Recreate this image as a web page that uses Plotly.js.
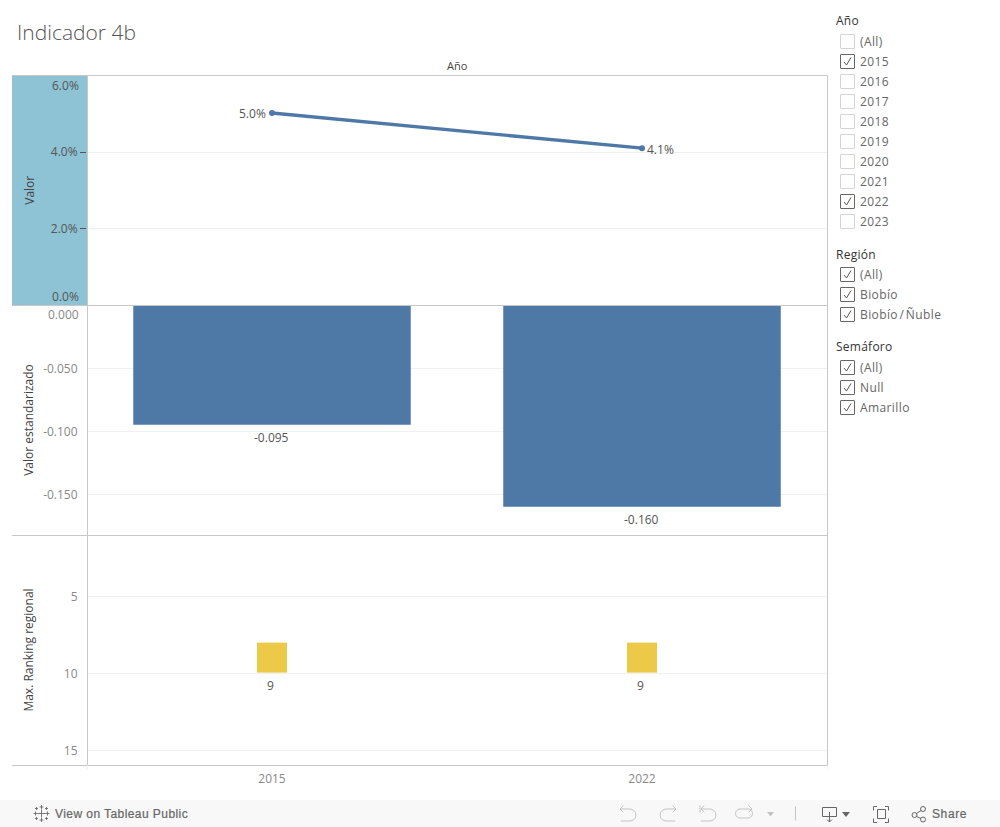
<!DOCTYPE html>
<html>
<head>
<meta charset="utf-8">
<script src="https://cdn.plot.ly/plotly-3.0.1.min.js"></script>
<style>
html,body{margin:0;padding:0;background:#fff;width:1000px;height:827px;overflow:hidden;font-family:"Open Sans",sans-serif}
#chart{position:absolute;left:0;top:0;width:1000px;height:827px}
.ft{position:absolute;left:836px;font-size:12px;color:#333;line-height:16px;white-space:nowrap;letter-spacing:.25px}
.fi{position:absolute;left:860px;font-size:12px;color:#666;line-height:16px;white-space:pre;letter-spacing:.4px;word-spacing:-2px}
.cb{position:absolute;left:840px;width:13px;height:13px;border:1px solid #d4d4d4;border-radius:1px;background:#fff}
.cb.on{border-color:#666}
.cb svg{position:absolute;left:0;top:0}
#bar{position:absolute;left:0;top:800px;width:1000px;height:27px;background:#f8f8f8;font-family:"Liberation Sans",sans-serif;font-size:12px;color:#666}
#bar span{position:absolute;top:6px;line-height:16px;-webkit-text-stroke:.2px #666}
#bar svg{position:absolute;left:0;top:0}
</style>
</head>
<body>
<div id="chart"></div>
<div id="filters"></div>
<div id="bar">
<svg width="1000" height="27" fill="none" stroke-linecap="butt" stroke-linejoin="round">
 <g stroke="#777" stroke-width="1">
  <path d="M41.500 9.500v8M37.500 13.500h8"/>
  <path d="M41.500 5v4M39.500 7h4M41.500 18v4M39.500 20h4M33.500 13.500h4M35.500 11.500v4M45.500 13.500h4M47.500 11.500v4"/>
  <path d="M36.500 7v3M35 8.500h3M46.500 7v3M45 8.500h3M36.500 17v3M35 18.500h3M46.500 17v3M45 18.500h3"/>
 </g>
 <g stroke="#c4c4c4" stroke-width="1" stroke-linecap="round">
  <path d="M621 9h9a6 6 0 0 1 0 12h-9M623 6l-3 3 3 3"/>
  <path d="M675 9h-9a6 6 0 0 0 0 12h9M673 6l3 3-3 3"/>
  <path d="M702 9h8a6 6 0 0 1 0 12h-9M704 6l-3 3 3 3M700 6v6"/>
  <path d="M740 9h8a3 3 0 0 1 0 9h-8a3 3 0 0 1 0-9M749 6l3 3-3 3"/>
  <path d="M795.500 7v13"/>
 </g>
 <path d="M767 12l3.500 4.500 3.500-4.500z" fill="#c4c4c4"/>
 <g stroke="#666" stroke-width="1">
  <path d="M822.500 7.500h14v9h-14zM829.500 12v10M827 19.500l2.500 2.500 2.500-2.500"/>
  <path d="M877 6.500h-3.500v4M885 6.500h3.500v4M877 22.500h-3.500v-4M885 22.500h3.500v-4M877.500 9.500h8v9h-8z"/>
  <circle cx="914.500" cy="15" r="2.500"/><circle cx="923" cy="9" r="2.500"/><circle cx="923" cy="19.500" r="2.500"/>
  <path d="M916.500 13.500l4.500-3M916.500 16.500l4.500 2"/>
 </g>
 <path d="M842 12l4 5 4-5z" fill="#666"/>
</svg>
<span style="left:55px;letter-spacing:.43px">View on Tableau Public</span>
<span style="left:932px;letter-spacing:.6px">Share</span>
</div>
<script>
// chart data
var years = ["2015", "2022"];
var valor = [0.0502, 0.0410];
var valorLabels = ["5.0%", "4.1%"];
var valorEstandarizado = [-0.095, -0.160];
var estandarizadoLabels = ["-0.095", "-0.160"];
var maxRanking = [9, 9];
var rankingLabels = ["9", "9"];

// filter panel contents
var filterAno = [["(All)",0],["2015",1],["2016",0],["2017",0],["2018",0],["2019",0],["2020",0],["2021",0],["2022",1],["2023",0]];
var filterRegion = [["(All)",1],["Biobío",1],["Biobío / Ñuble",1]];
var filterSemaforo = [["(All)",1],["Null",1],["Amarillo",1]];

var BLUE = "#4e79a7", YELLOW = "#edc948", BORDER = "#c8c8c8", GRID = "#f0f0f0";
var W = 1000, H = 827;
function py(p){ return 1 - p / H; }
function px(p){ return p / W; }

var traces = [
  {type:"scatter", mode:"lines+markers", x:years, y:valor, xaxis:"x", yaxis:"y",
   line:{color:BLUE, width:3.4}, marker:{color:BLUE, size:6}, cliponaxis:false, hoverinfo:"skip"},
  {type:"bar", x:years, y:valorEstandarizado, xaxis:"x", yaxis:"y2", width:0.75,
   marker:{color:BLUE}, hoverinfo:"skip"},
  {type:"scatter", mode:"markers", x:years, y:maxRanking, xaxis:"x", yaxis:"y3",
   marker:{color:YELLOW, size:30, symbol:"square"}, hoverinfo:"skip"}
];

function yBase(extra){
  return Object.assign({
    showgrid:true, gridcolor:GRID, gridwidth:1, zeroline:false, showline:false,
    automargin:false, anchor:"x",
    tickfont:{family:"Open Sans", size:12, color:"#888"},
    ticks:"outside", ticklen:6, tickcolor:"rgba(0,0,0,0)"
  }, extra);
}
var titleFont = {family:"Open Sans", size:12, color:"#444"};
var edge = {family:"Open Sans", size:12};
var dataFont = {family:"Open Sans", size:12, color:"#555"};

// x is the category position on the shared year axis
function dataLabel(i, y, yref, text, xanchor, xshift, yshift){
  return {xref:"x", yref:yref, x:i, y:y, text:text, showarrow:false, xanchor:xanchor, yanchor:"middle",
          xshift:xshift, yshift:yshift, font:dataFont};
}
var labelNotes = [
  dataLabel(0, valor[0], "y", valorLabels[0], "right", -4, -0.5),
  dataLabel(1, valor[1], "y", valorLabels[1], "left", 3, -1),
  dataLabel(0, valorEstandarizado[0], "y2", estandarizadoLabels[0], "center", -1, -13),
  dataLabel(1, valorEstandarizado[1], "y2", estandarizadoLabels[1], "center", -1, -13),
  dataLabel(0, maxRanking[0], "y3", rankingLabels[0], "center", -2, -27.5),
  dataLabel(1, maxRanking[1], "y3", rankingLabels[1], "center", -2, -27.5)
];

var layout = {
  width:W, height:H, margin:{l:0,r:0,t:0,b:0}, showlegend:false,
  paper_bgcolor:"#fff", plot_bgcolor:"#fff",
  font:{family:"Open Sans", color:"#555", size:12},
  title:{text:"Indicador 4b", x:px(17), xanchor:"left", y:py(33), yanchor:"middle",
         font:{family:"Open Sans", size:21, color:"#555", weight:300}},
  xaxis:{domain:[px(87),px(827)], type:"category", range:[-0.5,1.5], anchor:"y3",
         showgrid:false, zeroline:false, showline:false, ticks:"outside", ticklen:3,
         tickcolor:"rgba(0,0,0,0)", tickfont:{family:"Open Sans", size:12, color:"#888"}},
  yaxis:yBase({domain:[py(305),py(75.5)], range:[0,0.06], tickvals:[0.02,0.04], ticktext:["2.0%","4.0%"],
         tickfont:{family:"Open Sans", size:12, color:"#555"}, tickcolor:"#555", ticklen:6,
         title:{text:"Valor", font:titleFont, standoff:13}}),
  yaxis2:yBase({domain:[py(535),py(305)], range:[-0.1825,0], tickvals:[-0.05,-0.10,-0.15], ticktext:["-0.050","-0.100","-0.150"],
         ticklabelshift:1, title:{text:"Valor estandarizado", font:titleFont, standoff:6}}),
  yaxis3:yBase({domain:[py(765),py(535)], range:[15.97,1.04], tickvals:[5,10,15],
         ticklabelshift:-1, title:{text:"Max. Ranking regional", font:titleFont, standoff:27}}),
  shapes:[
    {type:"rect", xref:"paper", yref:"paper", x0:px(12), x1:px(87.5), y0:py(305), y1:py(75.5), fillcolor:"#8dc3d4", line:{width:0}, layer:"below"},
    {type:"line", xref:"paper", yref:"paper", x0:px(12), x1:px(827.5), y0:py(75.5), y1:py(75.5), line:{color:BORDER,width:1}},
    {type:"line", xref:"paper", yref:"paper", x0:px(12), x1:px(827.5), y0:py(305.5), y1:py(305.5), line:{color:BORDER,width:1}},
    {type:"line", xref:"paper", yref:"paper", x0:px(12), x1:px(827.5), y0:py(535.5), y1:py(535.5), line:{color:BORDER,width:1}},
    {type:"line", xref:"paper", yref:"paper", x0:px(12), x1:px(827.5), y0:py(765.5), y1:py(765.5), line:{color:BORDER,width:1}},
    {type:"line", xref:"paper", yref:"paper", x0:px(87.5), x1:px(87.5), y0:py(75.5), y1:py(765.5), line:{color:BORDER,width:1}},
    {type:"line", xref:"paper", yref:"paper", x0:px(827.5), x1:px(827.5), y0:py(75.5), y1:py(765.5), line:{color:BORDER,width:1}},
    {type:"line", xref:"paper", yref:"paper", x0:px(87.5), x1:px(87.5), y0:py(765.5), y1:py(769), line:{color:"#f0f0f0",width:1}},
    {type:"line", xref:"paper", yref:"paper", x0:px(827.5), x1:px(827.5), y0:py(765.5), y1:py(769), line:{color:"#f0f0f0",width:1}}
  ],
  annotations:[
    {xref:"paper", yref:"paper", x:px(457), y:py(65.5), text:"Año", showarrow:false, xanchor:"center", yanchor:"middle",
     font:{family:"Open Sans", size:11, color:"#444"}},
    {xref:"paper", yref:"y", x:px(80.5), y:0.06, yshift:-9.5, text:"6.0%", showarrow:false, xanchor:"right", yanchor:"middle", font:Object.assign({color:"#555"},edge)},
    {xref:"paper", yref:"y", x:px(80.5), y:0, yshift:9, text:"0.0%", showarrow:false, xanchor:"right", yanchor:"middle", font:Object.assign({color:"#555"},edge)},
    {xref:"paper", yref:"y2", x:px(80.5), y:0, yshift:-9, text:"0.000", showarrow:false, xanchor:"right", yanchor:"middle", font:Object.assign({color:"#888"},edge)}
  ].concat(labelNotes)
};

Plotly.newPlot("chart", traces, layout, {staticPlot:true, displayModeBar:false});

// filter panels
var CHECK = '<svg width="13" height="13" fill="none"><path d="M3 7l2.500 3L10 2.500" stroke="#555" stroke-width="1"/></svg>';
function addFilter(title, titleY, rows, firstY, step){
  var root = document.getElementById("filters"), h = "";
  h += '<div class="ft" style="top:'+(titleY-7)+'px">'+title+'</div>';
  rows.forEach(function(r,i){
    var y = firstY + i*step;
    h += '<div class="cb'+(r[1]?' on':'')+'" style="top:'+(y-7)+'px">'+(r[1]?CHECK:'')+'</div>';
    h += '<div class="fi" style="top:'+(y-7)+'px">'+r[0]+'</div>';
  });
  root.insertAdjacentHTML("beforeend", h);
}
addFilter("Año", 20, filterAno, 41, 20);
addFilter("Región", 254, filterRegion, 274, 20);
addFilter("Semáforo", 346, filterSemaforo, 367, 20);
</script>
</body>
</html>
